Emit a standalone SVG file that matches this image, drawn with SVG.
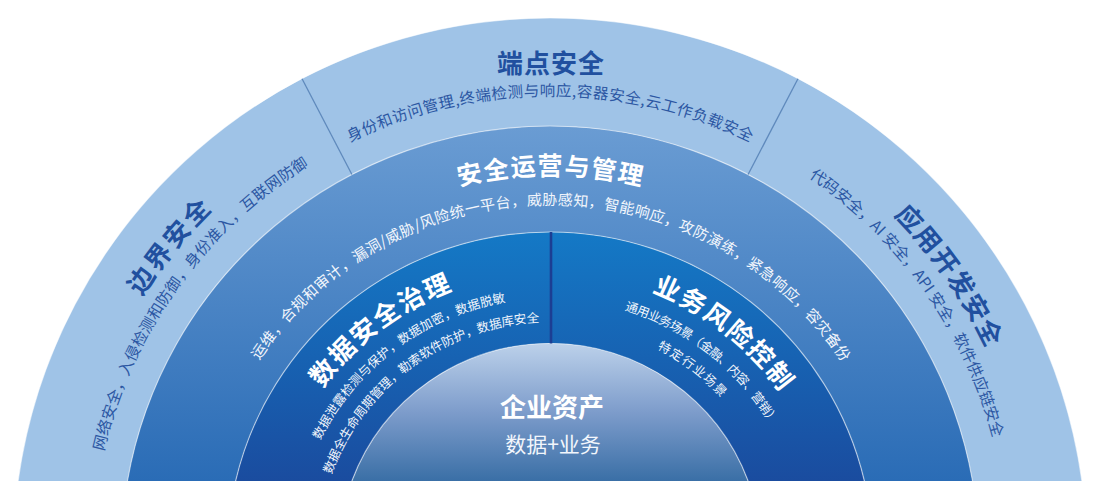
<svg xmlns="http://www.w3.org/2000/svg" width="1103" height="486" viewBox="0 0 1103 486">
<defs>
<linearGradient id="gMid" gradientUnits="userSpaceOnUse" x1="0" y1="126" x2="0" y2="481">
<stop offset="0" stop-color="#6A9CD3"/><stop offset="1" stop-color="#2A6CB6"/>
</linearGradient>
<linearGradient id="gDark" gradientUnits="userSpaceOnUse" x1="0" y1="232" x2="0" y2="481">
<stop offset="0" stop-color="#1479C6"/><stop offset="1" stop-color="#1A4C9F"/>
</linearGradient>
<linearGradient id="gInner" gradientUnits="userSpaceOnUse" x1="0" y1="343.5" x2="0" y2="481">
<stop offset="0" stop-color="#BCD1EA"/><stop offset="0.5" stop-color="#7D9CCB"/><stop offset="1" stop-color="#3A6FA6"/>
</linearGradient>
<path id="r483" d="M 67 555 A 483 483 0 0 1 1033 555"/>
<path id="r458" d="M 92 555 A 458 458 0 0 1 1008 555"/>
<path id="r459" d="M 91 555 A 459 459 0 0 1 1009 555"/>
<path id="r380" d="M 170 555 A 380 380 0 0 1 930 555"/>
<path id="r350" d="M 200 555 A 350 350 0 0 1 900 555"/>
<path id="r282" d="M 268 555 A 282 282 0 0 1 832 555"/>
<path id="r257" d="M 293 555 A 257 257 0 0 1 807 555"/>
<path id="r256" d="M 294 555 A 256 256 0 0 1 806 555"/>
<path id="r233" d="M 317 555 A 233 233 0 0 1 783 555"/>
<path id="r232" d="M 317.5 555 A 232.5 232.5 0 0 1 782.5 555"/>
</defs>
<style>
text{font-family:"Noto Sans CJK SC","Noto Sans",sans-serif;}
.band-outer{fill:#9FC3E7;}
.t-out{fill:#21509F;font-size:26px;font-weight:700;}
.s-out{fill:#2C57A3;font-size:15.5px;}
.t-w{fill:#FFFFFF;font-weight:700;}
.s-w{fill:#F2F6FC;}
.rim{fill:none;stroke:#FFFFFF;stroke-opacity:0.55;stroke-width:1.2;}
.div-outer{stroke:#5E89BC;stroke-width:1.3;}
.div-dark{stroke:#1C3E93;stroke-width:2.6;}
</style>
<rect width="1103" height="486" fill="#FFFFFF"/>

<g id="boundary-security">
<path class="band-outer" d="M 18.1 481 A 537 537 0 0 1 302.04 78.68 L 351.91 174.47 A 429 429 0 0 0 127.43 481 Z"/>
<text class="t-out"><textPath href="#r483" startOffset="21.667%" text-anchor="middle" textLength="112" lengthAdjust="spacing">边界安全</textPath></text>
<text class="s-out"><textPath href="#r458" startOffset="19.806%" text-anchor="middle" textLength="361" lengthAdjust="spacing">网络安全，入侵检测和防御，身份准入，互联网防御</textPath></text>
</g>

<g id="endpoint-security">
<path class="band-outer" d="M 302.04 78.68 A 537 537 0 0 1 797.96 78.68 L 748.09 174.47 A 429 429 0 0 0 351.91 174.47 Z"/>
<text class="t-out" x="551" y="72.5" text-anchor="middle" letter-spacing="1">端点安全</text>
<text class="s-out"><textPath href="#r459" startOffset="50%" text-anchor="middle" textLength="414" lengthAdjust="spacing">身份和访问管理,终端检测与响应,容器安全,云工作负载安全</textPath></text>
</g>

<g id="appdev-security">
<path class="band-outer" d="M 797.96 78.68 A 537 537 0 0 1 1081.9 481 L 972.57 481 A 429 429 0 0 0 748.09 174.47 Z"/>
<text class="t-out"><textPath href="#r483" startOffset="80.556%" text-anchor="middle" textLength="163" lengthAdjust="spacing">应用开发安全</textPath></text>
<text class="s-out"><textPath href="#r458" startOffset="80.44%" text-anchor="middle" textLength="326" lengthAdjust="spacing">代码安全，AI 安全，API 安全，软件供应链安全</textPath></text>
</g>

<g id="secops">
<path fill="url(#gMid)" d="M 127.43 481 A 429 429 0 0 1 972.57 481 L 864.41 481 A 323 323 0 0 0 235.59 481 Z"/>
<text class="t-w" font-size="25"><textPath href="#r380" startOffset="50%" text-anchor="middle" textLength="184" lengthAdjust="spacing">安全运营与管理</textPath></text>
<text class="s-w" font-size="15"><textPath href="#r350" startOffset="50.1%" text-anchor="middle" textLength="689" lengthAdjust="spacing">运维，合规和审计，漏洞/威胁/风险统一平台，威胁感知，智能响应，攻防演练，紧急响应，容灾备份</textPath></text>
</g>

<g id="data-governance">
<path fill="url(#gDark)" d="M 235.59 481 A 323 323 0 0 1 550 232 L 550 343.5 A 211.5 211.5 0 0 0 351.87 481 Z"/>
<text class="t-w" font-size="26"><textPath href="#r282" startOffset="29.44%" text-anchor="middle" textLength="165" lengthAdjust="spacing">数据安全治理</textPath></text>
<text class="s-w" font-size="12.5"><textPath href="#r257" startOffset="29.61%" text-anchor="middle" textLength="240" lengthAdjust="spacing">数据泄露检测与保护，数据加密，数据脱敏</textPath></text>
<text class="s-w" font-size="12.5"><textPath href="#r233" startOffset="29.89%" text-anchor="middle" textLength="273" lengthAdjust="spacing">数据全生命周期管理，勒索软件防护，数据库安全</textPath></text>
</g>

<g id="business-risk">
<path fill="url(#gDark)" d="M 550 232 A 323 323 0 0 1 864.41 481 L 748.13 481 A 211.5 211.5 0 0 0 550 343.5 Z"/>
<text class="t-w" font-size="26"><textPath href="#r282" startOffset="71.06%" text-anchor="middle" textLength="165" lengthAdjust="spacing">业务风险控制</textPath></text>
<text class="s-w" font-size="12.5"><textPath href="#r256" startOffset="71.28%" text-anchor="middle" textLength="191" lengthAdjust="spacing">通用业务场景（金融、内容、营销）</textPath></text>
<text class="s-w" font-size="12.5"><textPath href="#r232" startOffset="70.78%" text-anchor="middle" textLength="81" lengthAdjust="spacing">特定行业场景</textPath></text>
</g>

<g id="enterprise-assets">
<path fill="url(#gInner)" d="M 351.87 481 A 211.5 211.5 0 0 1 748.13 481 Z"/>
<text class="t-w" x="552" y="416.5" font-size="26" text-anchor="middle">企业资产</text>
<text class="s-w" x="553" y="452" font-size="21" text-anchor="middle">数据+业务</text>
</g>

<g id="separators">
<path class="rim" d="M 18.1 481 A 537 537 0 0 1 1081.9 481"/>
<path class="rim" d="M 127.43 481 A 429 429 0 0 1 972.57 481"/>
<path class="rim" d="M 235.59 481 A 323 323 0 0 1 864.41 481"/>
<path class="rim" d="M 351.87 481 A 211.5 211.5 0 0 1 748.13 481"/>
<line class="div-outer" x1="302.04" y1="78.68" x2="351.91" y2="174.47"/>
<line class="div-outer" x1="797.96" y1="78.68" x2="748.09" y2="174.47"/>
<line class="div-dark" x1="551" y1="232" x2="551" y2="343.5"/>
</g>
</svg>
